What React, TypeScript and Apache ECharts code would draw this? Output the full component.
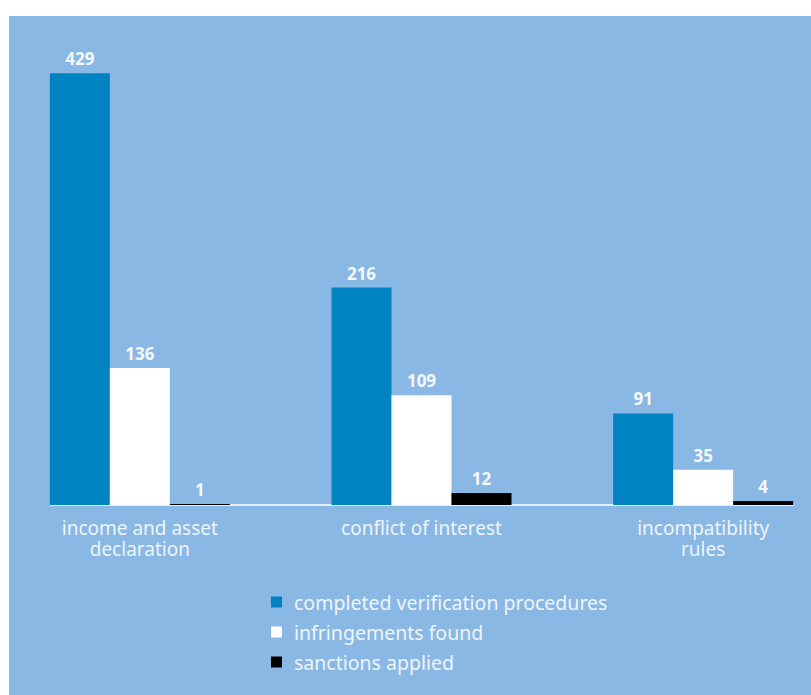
import React, { useEffect, useRef } from "react";
import * as echarts from "echarts";

const categories = ["income and asset\ndeclaration", "conflict of interest", "incompatibility\nrules"];
const seriesNames = ["completed verification procedures", "infringements found", "sanctions applied"];
const completed = [429, 216, 91];
const infringements = [136, 109, 35];
const sanctions = [1, 12, 4];
const colors = ["#0083c0", "#ffffff", "#000000"];

export default function App() {
  const ref = useRef<HTMLDivElement>(null);
  useEffect(() => {
    if (!ref.current) return;
    const chart = echarts.init(ref.current, null, { renderer: "svg" });
    const font = "'Noto Sans', 'Open Sans', sans-serif";
    const mk = (name: string, data: number[], color: string) => ({
      name,
      type: "bar",
      xAxisIndex: 0,
      yAxisIndex: 0,
      data,
      barWidth: 60,
      barGap: "0%",
      itemStyle: { color },
      label: {
        show: true,
        position: "top",
        distance: 6,
        color: "#f4f8fc",
        fontSize: 17,
        fontWeight: "bold",
        fontFamily: font,
      },
    });
    chart.setOption({
      animation: false,
      grid: [
        { left: 0, right: 0, top: 36, bottom: 190, containLabel: false },
        { left: 52, right: 51, top: 36, bottom: 190, containLabel: false },
      ],
      xAxis: [
        {
          type: "category",
          gridIndex: 0,
          data: categories,
          axisLine: { show: false },
          axisTick: { show: false },
          axisLabel: {
            color: "#eef4fb",
            fontSize: 19,
            fontFamily: font,
            margin: 12,
            lineHeight: 21,
          },
        },
        {
          type: "value",
          gridIndex: 1,
          min: 0,
          max: 1,
          axisLine: { show: true, lineStyle: { color: "#e4eef9", width: 2 } },
          axisTick: { show: false },
          axisLabel: { show: false },
          splitLine: { show: false },
        },
      ],
      yAxis: [
        { type: "value", gridIndex: 0, min: 0, max: 450, show: false },
        { type: "value", gridIndex: 1, min: 0, max: 450, show: false },
      ],
      legend: {
        orient: "vertical",
        left: 267,
        top: 571,
        itemWidth: 11,
        itemHeight: 11,
        itemGap: 10,
        icon: "rect",
        data: seriesNames,
        textStyle: {
          color: "#eef4fb",
          fontSize: 19.5,
          fontFamily: font,
          padding: [0, 0, 0, 7],
          lineHeight: 20,
        },
      },
      series: [
        mk(seriesNames[0], completed, colors[0]),
        mk(seriesNames[1], infringements, colors[1]),
        mk(seriesNames[2], sanctions, colors[2]),
      ],
    });
    return () => chart.dispose();
  }, []);
  return (
    <div
      style={{
        position: "absolute",
        left: 9,
        top: 16,
        width: 802,
        height: 679,
        overflow: "hidden",
        background: "#8ab8e4",
      }}
    >
      <div
        ref={ref}
        style={{ position: "absolute", left: -10, top: 0, width: 845, height: 679 }}
      />
    </div>
  );
}
